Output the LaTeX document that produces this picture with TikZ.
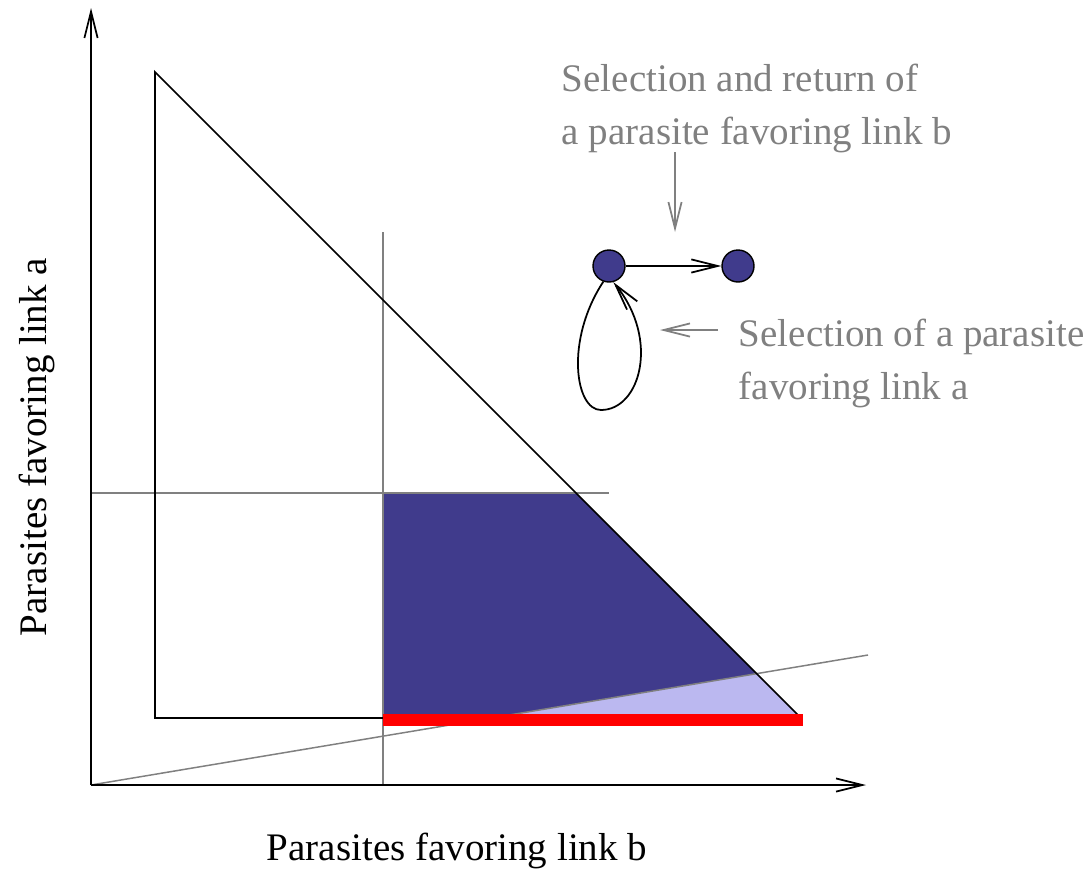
\documentclass[tikz,border=0pt]{standalone}
\usepackage{fontspec}
\setmainfont{Liberation Serif}
\usetikzlibrary{positioning,arrows.meta}

\definecolor{darkregion}{RGB}{64,59,140}
\definecolor{lightregion}{RGB}{187,184,240}
\definecolor{guidegray}{RGB}{128,128,128}

\tikzset{
    state/.style={circle, draw, fill=darkregion, line width=0.8pt, minimum size=0.64cm, inner sep=0pt},
    note/.style={text=guidegray, align=left, inner sep=0pt, font=\fontsize{22.2}{30.2}\selectfont},
    axislabel/.style={inner sep=0pt, font=\fontsize{22.2}{30.2}\selectfont},
}

\begin{document}
\begin{tikzpicture}[x=0.02cm, y=-0.02cm, >={Straight Barb[length=15pt,width=7.5pt]}, line width=1pt]
    \useasboundingbox (0,0) rectangle (1089,876);

    % Axes
    \coordinate (O) at (91,785);
    \coordinate (ytip) at (91,8);
    \coordinate (xtip) at (866,785);

    % Feasible triangle
    \coordinate (apex) at (155,72);
    \coordinate (corner) at (155,718);
    \coordinate (foot) at (801,718);

    % Regions
    \fill[darkregion] (383,493) -- (576,493) -- (756.6,673.6) -- (491.4,718) -- (383,718) -- cycle;
    \fill[lightregion] (491.4,718) -- (756.6,673.6) -- (foot) -- cycle;

    % Guide lines
    \coordinate (vtop) at (383,232);
    \coordinate (vbot) at (383,785);
    \coordinate (hleft) at (91,493);
    \coordinate (hright) at (609,493);
    \coordinate (dend) at (868,655);
    \draw[guidegray, line width=0.85pt] (vtop) -- (vbot);
    \draw[guidegray, line width=0.85pt] (hleft) -- (hright);
    \draw[guidegray, line width=0.85pt] (O) -- (dend);

    % Triangle and red edge
    \coordinate (redstart) at (383,720);
    \coordinate (redend) at (803,720);
    \draw (383,718) -- (corner) -- (apex) -- (foot);
    \draw[red, line width=6.6pt] (redstart) -- (redend);

    \draw[->] (O) -- (ytip);
    \draw[->] (O) -- (xtip);

    % States
    \node[state] (sa) at (609,266) {};
    \node[state] (sb) at (738,266) {};
    \coordinate (loopbot) at (601,410);
    \draw[->] (sa) -- (sb);
    \draw[->] (sa.250) .. controls (565,340) and (575,410) .. (loopbot)
        .. controls (640,410) and (660,340) .. (sa.285);

    % Notes
    \node[note, anchor=north west] (selb) at (561,63) {Selection and return of\\a parasite favoring link b};
    \node[note, anchor=north west] (sela) at (738,318) {Selection of a parasite\\favoring link a};
    \coordinate (tailb) at (675,152);
    \coordinate (tipb) at (675,232);
    \coordinate (taila) at (718,330);
    \coordinate (tipa) at (660,330);
    \draw[guidegray, ->] (tailb) -- (tipb);
    \draw[guidegray, ->] (taila) -- (tipa);

    % Axis labels
    \node[axislabel] (xlabel) at (457,851) {Parasites favoring link b};
    \node[axislabel, rotate=90] (ylabel) at (37,447) {Parasites favoring link a};
\end{tikzpicture}
\end{document}
